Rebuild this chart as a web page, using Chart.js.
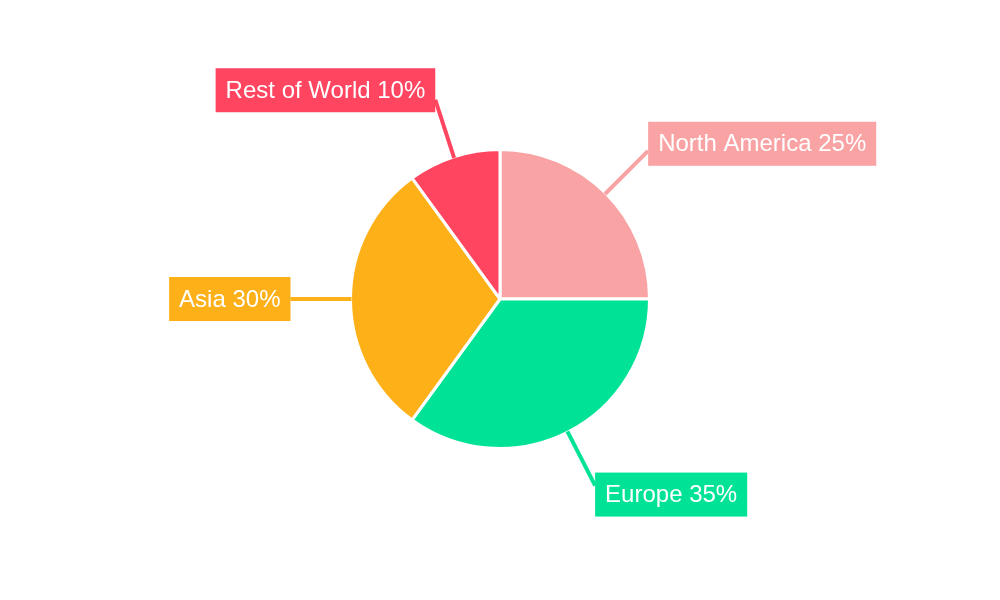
<!DOCTYPE html>
<html>
<head>
<meta charset="utf-8">
<script src="https://cdn.jsdelivr.net/npm/chart.js@4/dist/chart.umd.min.js"></script>
<style>
  html, body { margin: 0; padding: 0; background: #fff; }
  #wrap { width: 1000px; height: 600px; }
</style>
</head>
<body>
<div id="wrap"><canvas id="pie" width="1000" height="600"></canvas></div>
<script>
const regions = ['North America', 'Europe', 'Asia', 'Rest of World'];
const shares = [25, 35, 30, 10];
const colors = ['#F9A3A4', '#00E396', '#FEB019', '#FF4560'];

// callout labels: radial leader line, then a filled box with white text
const calloutPlugin = {
    id: 'callouts',
    afterDraw(chart) {
        const ctx = chart.ctx;
        const meta = chart.getDatasetMeta(0);
        ctx.save();
        ctx.font = '24px "Liberation Sans", Arial, sans-serif';
        meta.data.forEach((arc, i) => {
            const mid = (arc.startAngle + arc.endAngle) / 2;
            const cx = Math.cos(mid), sy = Math.sin(mid);
            const r0 = arc.outerRadius - 1;
            const r1 = arc.outerRadius + 60;
            const x0 = arc.x + cx * r0, y0 = arc.y + sy * r0;
            const x1 = arc.x + cx * r1, y1 = arc.y + sy * r1;

            ctx.strokeStyle = colors[i];
            ctx.lineWidth = 4;
            ctx.beginPath();
            ctx.moveTo(x0, y0);
            ctx.lineTo(x1, y1);
            ctx.stroke();

            const text = regions[i] + ' ' + shares[i] + '%';
            const w = ctx.measureText(text).width + 20;
            const h = 44;
            const left = cx >= 0 ? x1 : x1 - w;
            const top = y1 + sy * 10 - h / 2;
            ctx.fillStyle = colors[i];
            ctx.fillRect(left, top, w, h);
            ctx.fillStyle = '#ffffff';
            ctx.textAlign = 'center';
            ctx.textBaseline = 'middle';
            ctx.fillText(text, left + w / 2, top + h / 2 + 1);
        });
        ctx.restore();
    }
};

new Chart(document.getElementById('pie'), {
    type: 'pie',
    data: {
        labels: regions,
        datasets: [{
            data: shares,
            backgroundColor: colors,
            borderColor: '#ffffff',
            borderWidth: 3
        }]
    },
    options: {
        responsive: false,
        animation: false,
        layout: { padding: { top: 148, bottom: 150, left: 0, right: 0 } },
        plugins: {
            legend: { display: false },
            tooltip: { enabled: false }
        }
    },
    plugins: [calloutPlugin]
});
</script>
</body>
</html>
